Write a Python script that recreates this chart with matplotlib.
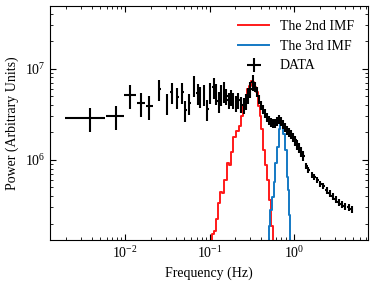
import numpy as np
import matplotlib
matplotlib.use('Agg')
import matplotlib.pyplot as plt

plt.rcParams['font.family'] = 'Liberation Serif'
plt.rcParams['mathtext.fontset'] = 'stix'

# binned power spectrum (Hz, arbitrary units)
freq = [0.00383, 0.00781, 0.0115, 0.0155, 0.0193, 0.0254, 0.0313, 0.0353, 0.0412, 0.0473,
        0.0514, 0.0574, 0.0650, 0.0719, 0.0767, 0.0855, 0.0939, 0.101, 0.111, 0.118,
        0.127, 0.135, 0.148, 0.1572, 0.1669, 0.1778, 0.1894, 0.2039, 0.2173, 0.2339,
        0.2518, 0.2683, 0.2858, 0.3018, 0.3223, 0.3433, 0.3627, 0.3831, 0.4047, 0.4276,
        0.4517, 0.4772, 0.5039, 0.5324, 0.5623, 0.5940, 0.6275, 0.6629, 0.7000, 0.7396,
        0.7814, 0.8254, 0.8720, 0.921, 0.9727, 1.028, 1.086, 1.147, 1.211, 1.280,
        1.389, 1.468, 1.638, 1.730, 1.879, 2.040, 2.213, 2.404, 2.610, 2.834,
        3.076, 3.340, 3.626, 3.936, 4.395, 4.771]
power = [2.86e6, 3.01e6, 5.14e6, 4.19e6, 3.88e6, 6.0e6, 4.19e6, 5.55e6, 4.89e6, 5.55e6,
         3.50e6, 4.19e6, 6.64e6, 5.41e6, 5.01e6, 5.27e6, 3.59e6, 5.55e6, 6.31e6, 5.41e6,
         4.41e6, 5.27e6, 5.70e6, 5.01e6, 4.53e6, 4.89e6, 4.47e6, 4.19e6, 4.53e6, 4.08e6,
         3.98e6, 4.41e6, 5.08e6, 6.0e6, 7.17e6, 6.31e6, 5.55e6, 4.64e6, 3.98e6, 3.59e6,
         3.24e6, 2.93e6, 2.71e6, 2.58e6, 2.51e6, 2.51e6, 2.64e6, 2.78e6, 2.64e6, 2.45e6,
         2.27e6, 2.10e6, 2.0e6, 1.90e6, 1.76e6, 1.63e6, 1.47e6, 1.36e6, 1.23e6, 1.11e6,
         8.58e5, 7.74e5, 6.81e5, 6.47e5, 6.0e5, 5.41e5, 5.14e5, 4.64e5, 4.30e5, 3.98e5,
         3.69e5, 3.41e5, 3.24e5, 3.08e5, 3.0e5, 2.86e5]
# relative 1-sigma errors
power_rel_err = [0.3] * 5 + [0.26] * 18 + [0.2] * 12 + [0.12] * 25 + [0.08] * 16
# half bin widths of the first linear bins, rest are log bins
freq_half_width = [0.0019, 0.0019, 0.0019, 0.0018, 0.0018]
log_bin_half = 0.035

# 2nd IMF spectrum
imf2_freq = [0.1028, 0.1086, 0.1147, 0.1211, 0.1280, 0.1352, 0.1428, 0.1551, 0.1638, 0.1730,
             0.1827, 0.1984, 0.2154, 0.2276, 0.2404, 0.2539, 0.2683, 0.2834, 0.2994, 0.3162,
             0.3295, 0.3433, 0.3627, 0.3831, 0.3992, 0.4160, 0.4394, 0.4642, 0.4903, 0.5179,
             0.5470, 0.570]
imf2_power = [1.0e5, 1.55e5, 1.67e5, 2.27e5, 3.33e5, 4.41e5, 4.30e5, 6.0e5, 9.26e5, 8.8e5,
              1.23e6, 1.80e6, 2.05e6, 2.33e6, 3.01e6, 3.88e6, 4.41e6, 6.0e6, 6.47e6, 7.36e6,
              7.17e6, 6.31e6, 5.55e6, 3.88e6, 3.01e6, 2.15e6, 1.29e6, 8.8e5, 6.0e5, 3.59e5,
              1.90e5, 1.0e5]

# 3rd IMF spectrum
imf3_freq = [0.4903, 0.5039, 0.5324, 0.5623, 0.5779, 0.6105, 0.6449, 0.6629, 0.6813, 0.7195,
             0.7603, 0.8028, 0.8254, 0.8483, 0.8720, 0.921]
imf3_power = [1.0e5, 1.90e5, 2.78e5, 3.88e5, 5.70e5, 9.26e5, 1.39e6, 2.15e6, 2.64e6, 2.45e6,
              1.90e6, 1.29e6, 6.47e5, 4.64e5, 2.45e5, 1.0e5]

freq = np.array(freq)
power = np.array(power)
xerr = np.array(freq_half_width + list(freq[5:] * log_bin_half))
yerr = power * np.array(power_rel_err)

fig = plt.figure(figsize=(3.74, 2.84), dpi=100)
ax = fig.add_axes([0.134, 0.155, 0.85, 0.825])

ax.plot(imf2_freq, imf2_power, drawstyle='steps-mid', color='#ff1a1a', lw=1.4, label='The 2nd IMF')
ax.plot(imf3_freq, imf3_power, drawstyle='steps-mid', color='#1479c4', lw=1.4, label='The 3rd IMF')
ax.errorbar(freq, power, xerr=xerr, yerr=yerr, fmt='none', ecolor='black', elinewidth=1.5,
            capsize=0, label='DATA')

ax.set_xscale('log')
ax.set_yscale('log')
ax.set_xlim(0.00129, 7.45)
ax.set_ylim(1.32e5, 4.9e7)

ax.set_xlabel('Frequency (Hz)', fontsize=10)
ax.set_ylabel('Power (Arbitrary Units)', fontsize=10)
ax.tick_params(which='both', direction='in', top=True, right=True, labelsize=10)
ax.tick_params(which='major', length=4)
ax.tick_params(which='minor', length=2)

ax.legend(loc='upper right', frameon=False, fontsize=10, handlelength=2.2,
          borderaxespad=0.6, labelspacing=0.5)

fig.savefig('out.png', dpi=100)
